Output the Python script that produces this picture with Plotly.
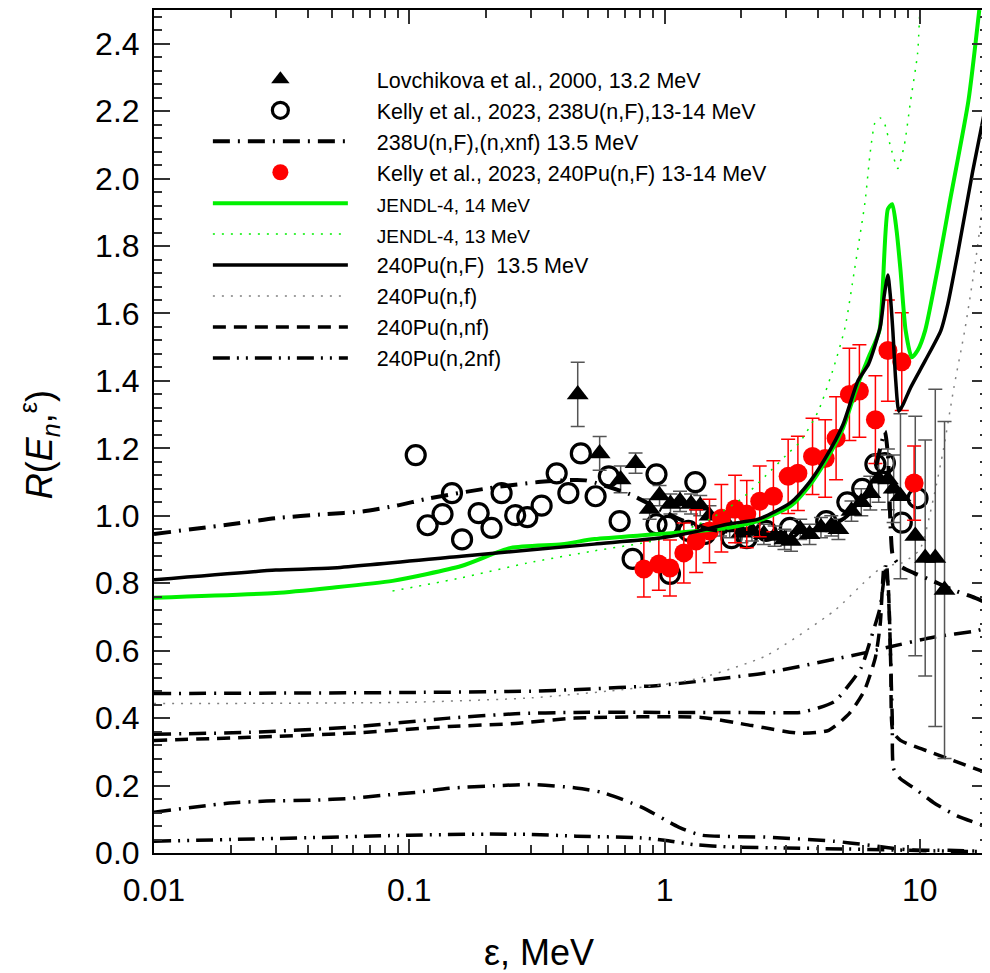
import plotly.graph_objects as go

# ---------------- data ----------------
# Lovchikova et al., 2000, 13.2 MeV (triangles)
lov_x = [0.457, 0.557, 0.673, 0.77, 0.874, 0.956, 1.055, 1.15, 1.27, 1.38, 1.5, 1.65, 1.8, 2.0, 2.2,
         2.45, 2.7, 2.95, 3.13, 3.4, 3.7, 4.1, 4.5, 4.8, 5.4, 5.9, 6.4, 6.9, 7.5, 7.9, 8.4, 9.6, 10.5, 11.5, 12.5]
lov_y = [1.36, 1.185, 1.108, 1.156, 1.02, 1.06, 1.035, 1.043, 1.035, 1.03, 1.0, 0.97, 0.965, 0.95, 0.955,
         0.945, 0.94, 0.93, 0.925, 0.96, 0.945, 0.965, 0.97, 0.96, 1.014, 1.04, 1.067, 1.11, 1.108, 1.08, 1.058,
         0.94, 0.875, 0.875, 0.78]
lov_e = [0.095, 0.05, 0.04, 0.03, 0.03, 0.03, 0.03, 0.03, 0.03, 0.03, 0.03, 0.03, 0.03, 0.03, 0.03,
         0.03, 0.03, 0.03, 0.03, 0.03, 0.03, 0.03, 0.03, 0.03, 0.03, 0.04, 0.05, 0.07, 0.09, 0.1, 0.245,
         0.355, 0.35, 0.5, 0.5]

# Kelly et al., 2023, 238U(n,F) (open circles)
k238_x = [0.106, 0.118, 0.135, 0.147, 0.161, 0.187, 0.21, 0.23, 0.26, 0.29, 0.33, 0.378, 0.42, 0.47, 0.537,
          0.605, 0.667, 0.75, 0.93, 0.93, 1.05, 1.03, 1.32, 1.24, 1.44, 1.83, 2.1, 2.5, 3.1, 4.3, 5.2, 5.95,
          6.7, 7.3, 8.5, 9.8]
k238_y = [1.18, 0.972, 1.005, 1.067, 0.93, 1.008, 0.964, 1.067, 1.002, 0.996, 1.03, 1.126, 1.067, 1.185, 1.058,
          1.117, 0.984, 0.872, 1.123, 0.975, 0.828, 0.97, 1.10, 0.955, 0.946, 0.934, 0.934, 0.955, 0.964, 0.984,
          1.04, 1.08, 1.153, 1.156, 0.98, 1.052]

# Kelly et al., 2023, 240Pu(n,F) (red dots)
k240_x = [0.83, 0.95, 1.05, 1.19, 1.33, 1.5, 1.67, 1.89, 2.1, 2.36, 2.67, 3.05, 3.33, 3.8, 4.26, 4.7,
          5.3, 5.8, 6.7, 7.5, 8.5, 9.5]
k240_y = [0.842, 0.857, 0.845, 0.89, 0.925, 0.955, 0.993, 1.02, 1.005, 1.043, 1.058, 1.117, 1.126, 1.176,
          1.17, 1.23, 1.36, 1.37, 1.285, 1.49, 1.457, 1.097]
k240_e = [0.083, 0.078, 0.083, 0.089, 0.093, 0.094, 0.1, 0.1, 0.1, 0.105, 0.105, 0.11, 0.11, 0.113, 0.115,
          0.123, 0.137, 0.137, 0.13, 0.15, 0.145, 0.11]

# 238U(n,F),(n,xnf) 13.5 MeV -- total
u_tot_x = [0.01, 0.02, 0.03, 0.047, 0.0656, 0.089, 0.12, 0.205, 0.32, 0.397, 0.49, 0.73, 1.12, 1.5, 2.0, 3.0,
           4.0, 5.0, 6.0, 6.6, 7.0, 7.3, 7.5, 7.7, 7.85, 8.4, 9.5, 11.0, 13.5, 16.0, 18.5]
u_tot_y = [0.946, 0.975, 0.993, 1.005, 1.013, 1.03, 1.052, 1.082, 1.10, 1.105, 1.105, 1.064, 0.993, 0.96, 0.95,
           0.95, 0.96, 0.99, 1.05, 1.12, 1.2, 1.25, 1.18, 0.95, 0.88, 0.85, 0.83, 0.81, 0.78, 0.76, 0.74]
# 238U components
u_f_x = [0.01, 0.1, 0.3, 0.46, 0.95, 1.39, 2.54, 4.65, 6.2, 7.5, 11.3, 16.9, 18.5]
u_f_y = [0.473, 0.476, 0.48, 0.485, 0.497, 0.51, 0.535, 0.575, 0.595, 0.61, 0.64, 0.66, 0.67]
u_nf_x = [0.01, 0.0237, 0.058, 0.143, 0.26, 0.445, 1.0, 2.0, 3.4, 4.0, 4.65, 5.3, 5.9, 6.4, 7.0, 7.2,
          7.4, 7.6, 7.8, 7.9, 8.4, 9.6, 11.3, 14.0, 18.5]
u_nf_y = [0.352, 0.358, 0.373, 0.40, 0.413, 0.417, 0.417, 0.417, 0.417, 0.43, 0.45, 0.50, 0.55, 0.63, 0.73,
          0.80, 0.86, 0.70, 0.40, 0.25, 0.22, 0.19, 0.15, 0.11, 0.077]
u_2nf_x = [0.01, 0.0198, 0.0276, 0.0433, 0.0583, 0.0785, 0.1065, 0.143, 0.225, 0.302, 0.449, 0.567, 0.813,
           1.135, 1.39, 2.5, 4.6, 6.2, 8.8, 12.9, 18.5]
u_2nf_y = [0.121, 0.148, 0.154, 0.157, 0.162, 0.171, 0.18, 0.192, 0.2, 0.203, 0.193, 0.18, 0.136,
           0.077, 0.053, 0.047, 0.035, 0.024, 0.01, 0.008, 0.005]

# JENDL-4
j14_x = [0.01, 0.03, 0.0487, 0.086, 0.16, 0.25, 0.397, 0.533, 0.96, 1.76, 2.33, 3.13, 3.7, 4.26, 5.0, 5.72,
         6.3, 6.95, 7.5, 7.8, 8.1, 8.4, 8.8, 9.3, 9.8, 10.5, 11.8, 13.1, 15.5, 17.1]
j14_y = [0.757, 0.771, 0.786, 0.807, 0.851, 0.905, 0.916, 0.931, 0.946, 0.964, 0.985, 1.03, 1.09, 1.16, 1.26,
         1.39, 1.47, 1.55, 1.91, 1.924, 1.85, 1.73, 1.55, 1.47, 1.49, 1.55, 1.74, 1.93, 2.23, 2.5]
j13_x = [0.086, 0.16, 0.29, 0.53, 0.96, 1.5, 2.0, 2.5, 3.0, 3.4, 4.0, 4.6, 5.1, 5.55, 6.1, 6.4, 6.7, 7.0,
         7.3, 7.65, 8.2, 8.7, 9.2, 9.8, 10.0]
j13_y = [0.777, 0.816, 0.86, 0.896, 0.93, 0.99, 1.05, 1.12, 1.18, 1.22, 1.31, 1.44, 1.56, 1.73, 1.93, 2.08,
         2.17, 2.18, 2.16, 2.10, 2.03, 2.10, 2.23, 2.37, 2.5]

# 240Pu(n,F) 13.5 MeV and its components
pu_tot_x = [0.01, 0.03, 0.05, 0.16, 0.53, 0.96, 1.27, 1.76, 2.33, 3.13, 3.7, 4.26, 5.0, 5.72, 6.3, 7.0,
            7.26, 7.5, 7.65, 7.84, 8.05, 8.28, 8.6, 9.2, 10.5, 12.1, 12.9, 14.1, 16.1, 18.5]
pu_tot_y = [0.81, 0.839, 0.845, 0.88, 0.916, 0.934, 0.95, 0.975, 0.99, 1.04, 1.10, 1.17, 1.27, 1.40, 1.45,
            1.56, 1.655, 1.714, 1.66, 1.55, 1.40, 1.31, 1.33, 1.38, 1.46, 1.55, 1.63, 1.78, 2.02, 2.25]
pu_f_x = [0.01, 0.1, 0.3, 0.6, 1.0, 1.4, 2.5, 4.65, 6.2, 7.2, 8.5, 10.0, 11.3, 12.4, 13.6, 15.0, 16.5,
          17.5, 18.5]
pu_f_y = [0.443, 0.447, 0.46, 0.48, 0.50, 0.52, 0.585, 0.72, 0.81, 0.85, 0.86, 0.90, 1.05, 1.2, 1.38, 1.55,
          1.75, 1.9, 2.05]
pu_nf_x = [0.01, 0.0237, 0.058, 0.143, 0.26, 0.445, 1.39, 2.2, 3.4, 4.4, 5.3, 6.05, 6.7, 7.0, 7.25, 7.5,
           7.7, 7.85, 8.4, 11.3, 18.5]
pu_nf_y = [0.334, 0.343, 0.355, 0.375, 0.384, 0.40, 0.402, 0.378, 0.355, 0.364, 0.414, 0.48, 0.58, 0.68,
           0.85, 0.80, 0.55, 0.36, 0.334, 0.296, 0.236]
pu_2nf_x = [0.01, 0.02, 0.044, 0.1, 0.2, 0.3, 0.45, 0.8, 1.0, 1.3, 1.8, 3.0, 5.0, 8.0, 12.0, 18.5]
pu_2nf_y = [0.035, 0.04, 0.046, 0.053, 0.056, 0.055, 0.05, 0.045, 0.038, 0.025, 0.018, 0.015, 0.012,
            0.009, 0.006, 0.004]

x_major = [0.01, 0.1, 1, 10]
x_major_text = ["0.01", "0.1", "1", "10"]
x_minor = [m * d for d in (0.01, 0.1, 1, 10) for m in range(2, 10)]

FONT = "Arial, Liberation Sans, sans-serif"
GREEN = "#00f000"
DASHDOT = "17px,8px,2px,8px"
DASHDOTDOT = "17px,7px,2px,7px,2px,7px"
DASHED = "13px,8px"
DOT = "2px,7px"
PAD = "\u00a0" * 4  # gap between legend sample and label

fig = go.Figure()

def line(x, y, name, color, width, dash, rank, show=True):
    fig.add_trace(go.Scatter(x=x, y=y, mode="lines", name=name, showlegend=show, legendrank=rank,
                             line=dict(color=color, width=width, dash=dash, shape="spline", smoothing=0.6)))

# lower curves first
line(u_f_x, u_f_y, "238U(n,f)", "black", 3.5, DASHDOT, 30, False)
line(u_nf_x, u_nf_y, "238U(n,nf)", "black", 3.5, DASHDOT, 31, False)
line(u_2nf_x, u_2nf_y, "238U(n,2nf)", "black", 3.5, DASHDOT, 32, False)
line(pu_f_x, pu_f_y, PAD + "240Pu(n,f)", "#808080", 1.5, DOT, 8)
line(pu_nf_x, pu_nf_y, PAD + "240Pu(n,nf)", "black", 3.5, DASHED, 9)
line(pu_2nf_x, pu_2nf_y, PAD + "240Pu(n,2nf)", "black", 3.5, DASHDOTDOT, 10)

# data points
fig.add_trace(go.Scatter(x=k238_x, y=k238_y, mode="markers",
                         name=PAD + "Kelly et al., 2023, 238U(n,F),13-14 MeV", legendrank=2,
                         marker=dict(symbol="circle-open", size=19, color="black",
                                     line=dict(width=3.2, color="black"))))
fig.add_trace(go.Scatter(x=lov_x, y=lov_y, mode="markers",
                         name=PAD + "Lovchikova et al., 2000, 13.2 MeV", legendrank=1,
                         error_y=dict(type="data", array=lov_e, color="#555555", thickness=1.5, width=7),
                         marker=dict(symbol="triangle-up", size=19, color="black")))
fig.add_trace(go.Scatter(x=k240_x, y=k240_y, mode="markers",
                         name=PAD + "Kelly et al., 2023, 240Pu(n,F) 13-14 MeV", legendrank=4,
                         error_y=dict(type="data", array=k240_e, color="#ff0000", thickness=1.5, width=7),
                         marker=dict(symbol="circle", size=19, color="#ff0000")))

# upper curves
line(j13_x, j13_y, PAD + '<span style="font-size:19px">JENDL-4, 13 MeV</span>', GREEN, 1.5, DOT, 6)
line(j14_x, j14_y, PAD + '<span style="font-size:19px">JENDL-4, 14 MeV</span>', GREEN, 4, "solid", 5)
line(pu_tot_x, pu_tot_y, PAD + "240Pu(n,F)  13.5 MeV", "black", 3.5, "solid", 7)
line(u_tot_x, u_tot_y, PAD + "238U(n,F),(n,xnf) 13.5 MeV", "black", 4, DASHDOT, 3)

axis_common = dict(showline=True, linecolor="black", linewidth=2, mirror="allticks", ticks="inside",
                   tickcolor="#333333", tickwidth=1.5, showgrid=False, zeroline=False,
                   tickfont=dict(family=FONT, size=32, color="black"))

fig.update_xaxes(type="log", range=[-2, 1.2672], tickmode="array", tickvals=x_major, ticktext=x_major_text,
                 ticklen=14, ticklabelstandoff=8,
                 minor=dict(tickmode="array", tickvals=x_minor, ticks="inside", ticklen=8, tickwidth=1.5,
                            tickcolor="#333333"),
                 **axis_common)
fig.update_yaxes(range=[0, 2.5], tickmode="linear", tick0=0, dtick=0.2, tickformat=".1f",
                 ticklen=16, ticklabelstandoff=6,
                 minor=dict(dtick=0.04, ticks="inside", ticklen=8, tickwidth=1.5, tickcolor="#333333"),
                 **axis_common)

fig.add_annotation(text="ε, MeV", xref="paper", yref="paper", x=0.4617, y=-0.1183, showarrow=False,
                   xanchor="center", yanchor="middle", font=dict(family=FONT, size=36, color="black"))
fig.add_annotation(text="<i>R</i>(<i>E<sub>n</sub></i>,<sup>ε</sup>)", xref="paper", yref="paper",
                   x=-0.1364, y=0.484, showarrow=False, textangle=-90, xanchor="center", yanchor="middle",
                   font=dict(family=FONT, size=36, color="black"))

# page body has an 8px margin, so the figure is 8px smaller and margins shifted accordingly
fig.update_layout(
    width=982, height=965, autosize=False,
    margin=dict(l=146, r=0, t=0, b=120),
    paper_bgcolor="white", plot_bgcolor="white",
    font=dict(family=FONT, color="black"),
    legend=dict(x=0.0646, y=0.942, xanchor="left", yanchor="top", bgcolor="rgba(0,0,0,0)",
                itemwidth=135, font=dict(family=FONT, size=21.5, color="black"),
                tracegroupgap=0),
)

fig.write_html("out.html")
